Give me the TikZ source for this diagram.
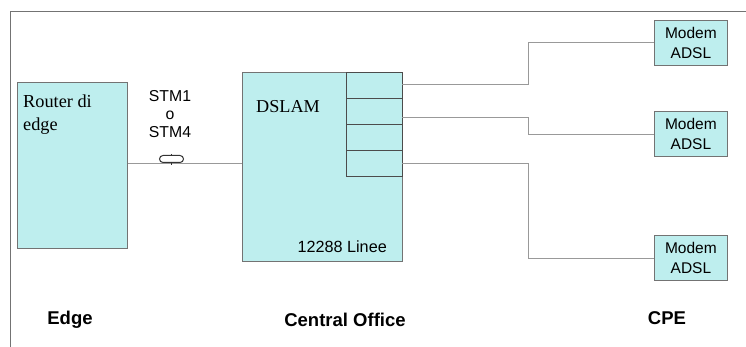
\documentclass[tikz,border=0pt]{standalone}
\usepackage{fontspec}
\setmainfont{Liberation Sans}
\newfontfamily\timesf{Liberation Serif}
\begin{document}
\begin{tikzpicture}[x=1pt,y=-1pt,
  boxst/.style={draw=black!55,fill=cyanfill,line width=0.8pt},
  portst/.style={draw=black!70,line width=0.8pt,minimum width=56pt,minimum height=26pt,inner sep=0pt,anchor=north west},
  wire/.style={draw=black!40,line width=0.9pt},
  lbl/.style={font=\fontsize{18.5}{20}\selectfont\bfseries},
  modemst/.style={boxst,minimum width=73pt,minimum height=45pt,inner sep=0pt,align=center,font=\fontsize{15.5}{20}\selectfont}]
\definecolor{cyanfill}{RGB}{190,238,238}
\useasboundingbox (0,0) rectangle (746,347);
\draw[black!55,line width=0.8pt] (10,347) -- (10,11) -- (746,11);
% router
\node[boxst,minimum width=110pt,minimum height=166pt,inner sep=0pt,anchor=north west] (router) at (17,82) {};
\node[font=\timesf\fontsize{18.3}{23}\selectfont,align=left,anchor=north west,inner sep=0pt] (routert) at (23,95) {Router di\\edge};
% dslam
\node[boxst,minimum width=160pt,minimum height=189pt,inner sep=0pt,anchor=north west] (dslam) at (242,72) {};
\node[font=\timesf\fontsize{18.2}{20}\selectfont,anchor=west,inner sep=0pt] (dslamt) at (256,107) {DSLAM};
\node[font=\fontsize{16.2}{18}\selectfont,anchor=east,inner sep=0pt] (linee) at (387,247) {12288 Linee};
% port stack
\node[portst] (p1) at (346,72) {};
\node[portst] (p2) at (346,98) {};
\node[portst] (p3) at (346,124) {};
\node[portst] (p4) at (346,150) {};
% modems
\node[modemst,anchor=north west] (m1) at (654,20) {Modem\\ADSL};
\node[modemst,anchor=north west] (m2) at (654,111) {Modem\\ADSL};
\node[modemst,anchor=north west] (m3) at (654,235) {Modem\\ADSL};
% wires
\coordinate (r1) at (402,84);
\coordinate (r2) at (402,117);
\coordinate (r3) at (402,163);
\draw[wire] (r1) -- (528,84) -- (528,42) -- (m1.west |- 0,42);
\draw[wire] (r2) -- (528,117) -- (528,134) -- (m2.west |- 0,134);
\draw[wire] (r3) -- (528,163) -- (528,258) -- (m3.west |- 0,258);
\draw[wire] (router.east |- 0,163) -- (dslam.west |- 0,163);
% cable loop
\draw[black!80,line width=1pt,fill=white,rounded corners=3.5pt] (159.5,155.5) rectangle (183.5,162.5);
\draw[black!80,line width=0.9pt] (171,154) -- (171,156);
\draw[black!80,line width=0.9pt] (171,162) -- (171,165);
% stm labels
\node[font=\fontsize{15.8}{18}\selectfont,align=center,inner sep=0pt] (stm) at (170,114) {STM1\\o\\STM4};
% bottom labels
\node[lbl] (edge) at (70,320) {Edge};
\node[lbl] (co) at (345,320) {Central Office};
\node[lbl] (cpe) at (667,318) {CPE};
\end{tikzpicture}
\end{document}
